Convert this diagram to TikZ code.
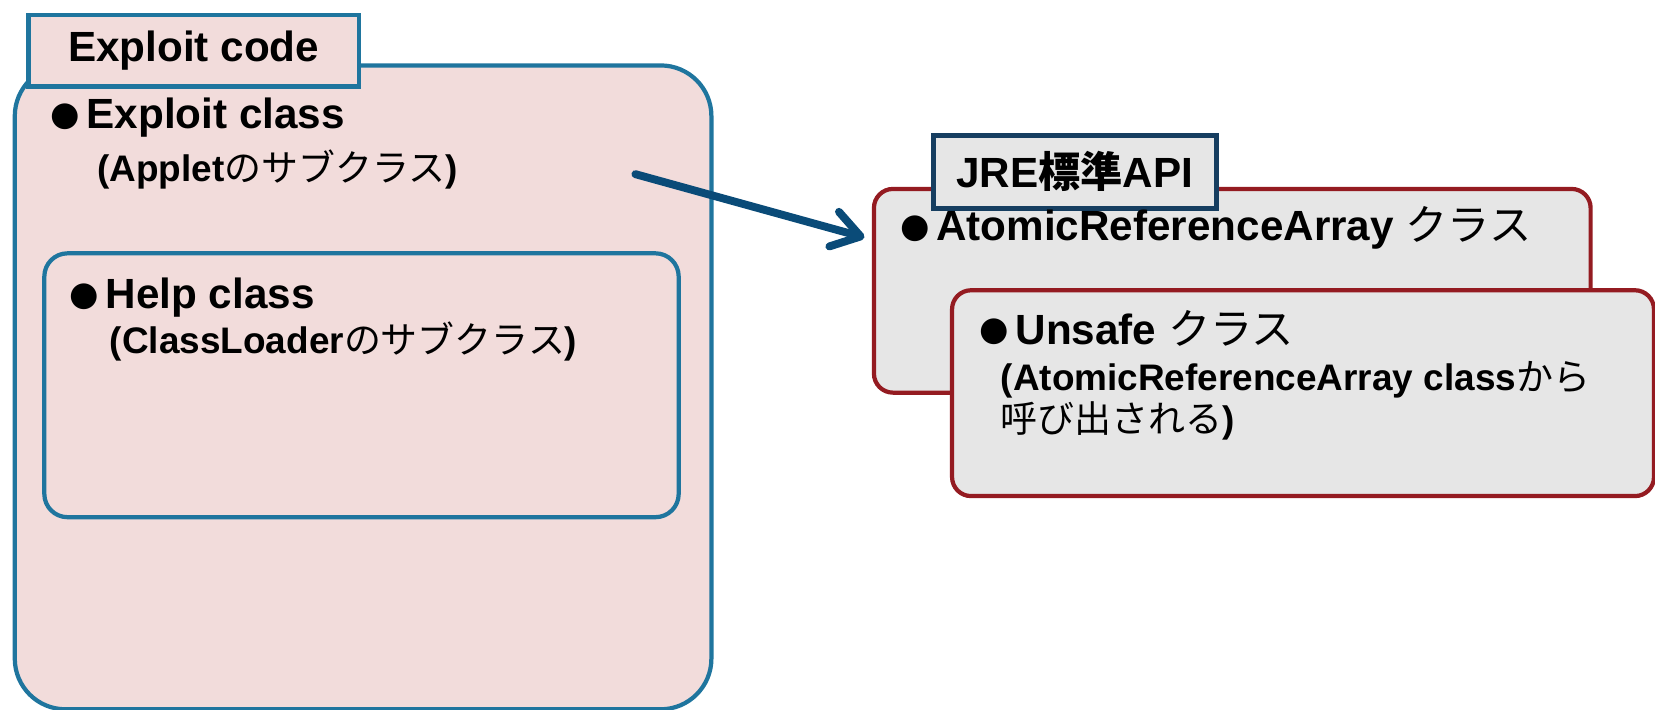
\documentclass[tikz,border=0pt]{standalone}
\usepackage{fontspec}
\setmainfont{Liberation Sans}
\newfontfamily\jpfont{Noto Sans CJK JP}
\newfontfamily\symfont{DejaVu Sans}
\usetikzlibrary{arrows.meta}

\definecolor{exfill}{RGB}{242,220,219}
\definecolor{exline}{RGB}{31,117,158}
\definecolor{apifill}{RGB}{230,230,230}
\definecolor{apiline}{RGB}{148,27,33}
\definecolor{tabline}{RGB}{22,62,96}
\definecolor{arrowblue}{RGB}{10,75,120}

\newcommand{\jp}[1]{{\jpfont\mdseries #1}}
\newcommand{\blt}{\raisebox{3pt}{\symfont\mdseries\fontsize{32}{32}\selectfont ●}\hspace{6pt}}

\tikzset{
  exbox/.style={draw=exline, fill=exfill, line width=4pt, inner sep=0, anchor=north west},
  apibox/.style={draw=apiline, fill=apifill, line width=4pt, rounded corners=18pt, inner sep=0, anchor=north west},
  headtext/.style={inner sep=0, anchor=base west, font=\bfseries\fontsize{40}{44}\selectfont},
  subtext/.style={inner sep=0, anchor=base west, align=left, font=\bfseries\fontsize{35}{40}\selectfont},
  arrowline/.style={draw=arrowblue, line width=7.5pt, line cap=round, -{Straight Barb[length=26pt,width=34pt,round]}}
}

\begin{document}
\begin{tikzpicture}[x=1pt,y=-1pt]
    \useasboundingbox (0,0) rectangle (1568,672);

    \node[exbox, rounded corners=48pt, minimum width=660pt, minimum height=610pt] (exploit) at (12,60) {};
    \node[exbox, minimum width=313pt, minimum height=68pt, font=\bfseries\fontsize{40}{44}\selectfont] (codetab) at (25,12) {Exploit code};
    \node[headtext] (exploitcls) at (48,122) {\blt Exploit class};
    \node[subtext] (exploitsub) at (92,172) {(Applet\jp{のサブクラス})};

    \node[exbox, rounded corners=22pt, minimum width=601pt, minimum height=250pt] (helpbox) at (40,238) {};
    \node[headtext] (helpcls) at (66,292) {\blt Help class};
    \node[subtext] (helpsub) at (104,335) {(ClassLoader\jp{のサブクラス})};

    \node[apibox, minimum width=679pt, minimum height=193pt] (atomicbox) at (826,177) {};
    \node[exbox, draw=tabline, fill=apifill, line width=4.5pt, minimum width=268pt, minimum height=69pt, font=\bfseries\fontsize{40}{44}\selectfont] (jretab) at (882,126) {JRE{\jpfont\bfseries 標準}API};
    \node[headtext] (atomiccls) at (853,228) {\blt AtomicReferenceArray \jp{クラス}};

    \node[apibox, minimum width=665pt, minimum height=195pt] (unsafebox) at (900,273) {};
    \node[headtext] (unsafecls) at (928,326) {\blt Unsafe \jp{クラス}};
    \node[subtext] (unsafesub) at (948,410) {(AtomicReferenceArray class\jp{から}\\\jp{呼び出される})};

    \coordinate (arrowstart) at (602,165);
    \coordinate (arrowtip) at (819,225);
    \draw[arrowline] (arrowstart) -- (arrowtip);
\end{tikzpicture}
\end{document}
